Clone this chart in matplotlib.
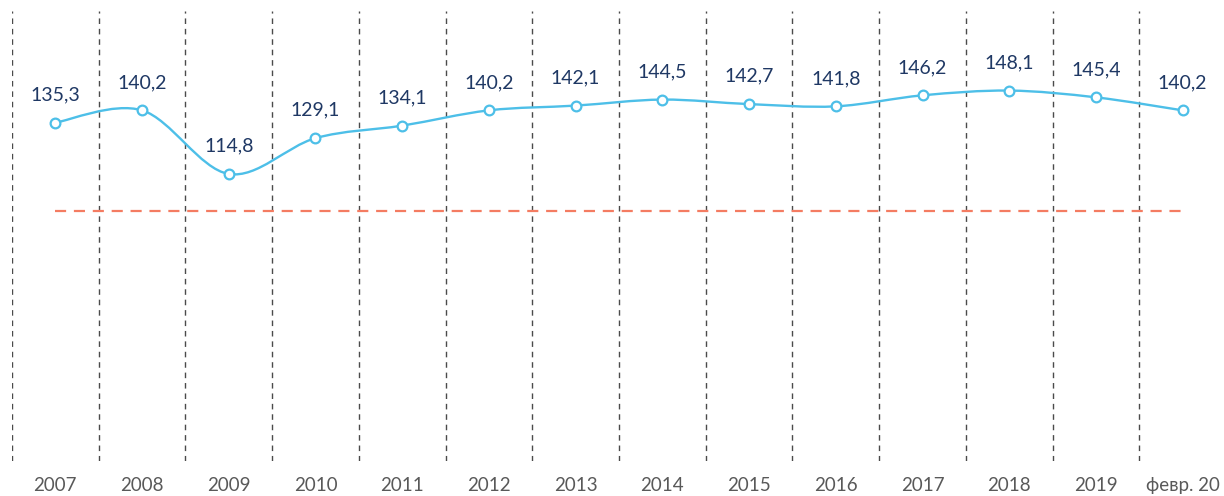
import matplotlib
matplotlib.use("Agg")
import matplotlib.pyplot as plt
from matplotlib.path import Path
from matplotlib.patches import PathPatch
import numpy as np

# data
years = ["2007", "2008", "2009", "2010", "2011", "2012", "2013",
         "2014", "2015", "2016", "2017", "2018", "2019", "февр. 20"]
values = [135.3, 140.2, 114.8, 129.1, 134.1, 140.2, 142.1,
          144.5, 142.7, 141.8, 146.2, 148.1, 145.4, 140.2]
base_level = 100

plt.rcParams['font.family'] = ['Lato', 'DejaVu Sans']

fig = plt.figure(figsize=(12.24, 4.96), dpi=100)
ax = fig.add_axes([12 / 1224, 34.6 / 496, 1214 / 1224, 450.7 / 496])

x = np.arange(len(values))
y = np.array(values)

# smooth line (catmull-rom -> bezier), like excel's smoothed line
verts = [(x[0], y[0])]
codes = [Path.MOVETO]
n = len(x)
for i in range(n - 1):
    p0 = np.array([x[max(i - 1, 0)], y[max(i - 1, 0)]])
    p1 = np.array([x[i], y[i]])
    p2 = np.array([x[i + 1], y[i + 1]])
    p3 = np.array([x[min(i + 2, n - 1)], y[min(i + 2, n - 1)]])
    c1 = p1 + (p2 - p0) / 6
    c2 = p2 - (p3 - p1) / 6
    verts += [tuple(c1), tuple(c2), tuple(p2)]
    codes += [Path.CURVE4] * 3
ax.add_patch(PathPatch(Path(verts, codes), fill=False, edgecolor="#4DBFE8",
                       lw=1.7, zorder=3))

ax.plot(x, y, ls="none", marker="o", ms=7, mfc="white", mec="#4DBFE8",
        mew=1.6, zorder=4)

# reference level
ax.plot([x[0], x[-1]], [base_level, base_level], ls=(0, (5, 3.5)),
        color="#F47C62", lw=1.6, zorder=2)

# vertical separators
for b in np.arange(-0.5, n - 0.5, 1.0):
    ax.axvline(b, color="#4a4a4a", lw=1.0, ls=(0, (4, 3.5)), zorder=1)

for xi, v in zip(x, values):
    ax.annotate(f"{v:.1f}".replace(".", ","), (xi, v), xytext=(0, 20),
                textcoords="offset points", ha="center", va="center",
                fontsize=14, color="#1F3864")

ax.set_xlim(-0.5, n - 0.5)
ax.set_ylim(0, 180)
ax.set_xticks(x)
ax.set_xticklabels(years, fontsize=13.5, color="#595959")
ax.tick_params(axis="x", length=0, pad=11)
ax.set_yticks([])
for s in ax.spines.values():
    s.set_visible(False)

fig.savefig("out.png", dpi=100)
